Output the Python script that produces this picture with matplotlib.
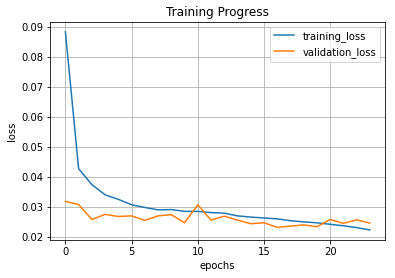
import matplotlib
matplotlib.use('Agg')
import matplotlib.pyplot as plt

epochs = list(range(24))
training_loss = [0.0883, 0.0428, 0.0375, 0.0341, 0.0326, 0.0308, 0.0299, 0.0291,
                 0.0292, 0.0286, 0.0286, 0.0282, 0.0280, 0.0271, 0.0267, 0.0264,
                 0.0261, 0.0255, 0.0251, 0.0248, 0.0243, 0.0238, 0.0232, 0.0224]
validation_loss = [0.0319, 0.0309, 0.0259, 0.0276, 0.0269, 0.0271, 0.0256, 0.0271,
                   0.0275, 0.0248, 0.0308, 0.0257, 0.0270, 0.0257, 0.0245, 0.0248,
                   0.0233, 0.0237, 0.0241, 0.0235, 0.0259, 0.0246, 0.0258, 0.0247]

fig = plt.figure(figsize=(395/72, 278/72), dpi=72)
ax = fig.add_subplot(111)
fig.subplots_adjust(left=0.127, right=0.975, top=0.921, bottom=0.137)

ax.plot(epochs, training_loss, label='training_loss')
ax.plot(epochs, validation_loss, label='validation_loss')
ax.set_title('Training Progress')
ax.set_xlabel('epochs')
ax.set_ylabel('loss')
ax.grid(True)
ax.legend(loc='upper right')

fig.savefig('out.png', dpi=72)
